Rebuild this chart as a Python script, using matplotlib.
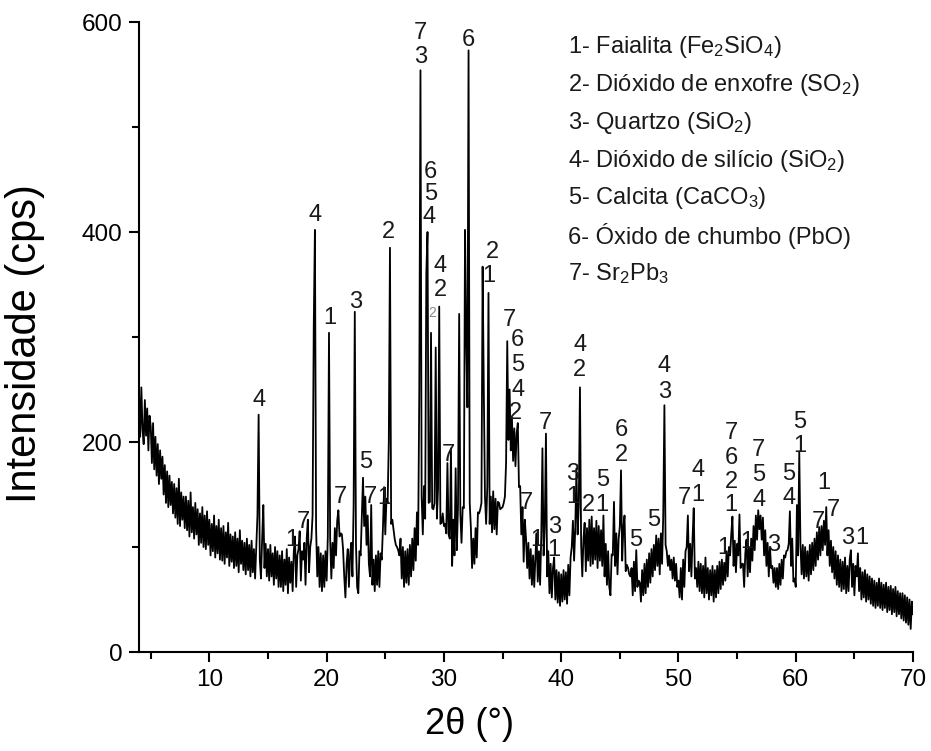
import numpy as np
import matplotlib
matplotlib.use('Agg')
import matplotlib.pyplot as plt

plt.rcParams['font.family'] = ['Liberation Sans', 'DejaVu Sans']
plt.rcParams['mathtext.default'] = 'regular'

# 2theta grid, 0.1 deg step from 4 to 70
two_theta = np.round(np.arange(4.0, 70.05, 0.1), 1)

# intensity, one row per degree
intensity = [
    248, 205, 252, 212, 198, 240, 206, 232, 192, 225,   # 4
    215, 180, 218, 174, 205, 168, 198, 160, 192, 165,   # 5
    186, 150, 178, 142, 172, 138, 168, 140, 162, 132,   # 6
    160, 128, 156, 122, 165, 120, 152, 126, 148, 118,   # 7
    148, 116, 144, 110, 152, 114, 138, 108, 142, 112,   # 8
    136, 102, 132, 104, 138, 100, 130, 98, 134, 102,    # 9
    126, 92, 122, 96, 130, 90, 120, 94, 126, 88,        # 10
    118, 87, 120, 84, 114, 90, 123, 82, 112, 86,        # 11
    110, 80, 114, 82, 108, 76, 116, 84, 106, 78,        # 12
    104, 74, 108, 78, 102, 72, 106, 76, 98, 70,         # 13
    100, 130, 226, 88, 70, 108, 140, 80, 103, 72,       # 14
    98, 68, 102, 72, 94, 64, 100, 70, 96, 62,           # 15
    92, 62, 96, 58, 88, 64, 98, 56, 90, 66,             # 16
    86, 58, 96, 110, 62, 92, 98, 115, 68, 96,           # 17
    88, 104, 64, 108, 126, 76, 100, 108, 130, 310,      # 18
    402, 118, 72, 100, 62, 94, 58, 92, 62, 96,          # 19
    68, 110, 304, 108, 70, 104, 80, 118, 92, 125,       # 20
    135, 110, 113, 112, 98, 72, 52, 84, 98, 62,         # 21
    92, 104, 72, 140, 324, 103, 62, 56, 96, 92,         # 22
    128, 166, 120, 148, 102, 130, 84, 72, 140, 64,      # 23
    88, 58, 92, 64, 96, 62, 94, 88, 118, 157,           # 24
    112, 146, 142, 200, 385, 122, 126, 117, 108, 102,   # 25
    100, 97, 92, 108, 70, 100, 62, 96, 66, 98,          # 26
    64, 102, 72, 108, 78, 118, 87, 133, 102, 250,       # 27
    554, 148, 112, 158, 127, 361, 400, 142, 143, 304,   # 28
    137, 136, 142, 290, 127, 156, 329, 122, 123, 132,   # 29
    120, 122, 113, 180, 112, 108, 194, 82, 126, 92,     # 30
    175, 97, 138, 322, 132, 104, 138, 137, 402, 300,    # 31
    233, 573, 142, 118, 80, 108, 84, 118, 90, 133,      # 32
    132, 136, 142, 367, 250, 148, 122, 158, 342, 122,   # 33
    148, 114, 153, 117, 146, 112, 143, 142, 136, 137,   # 34
    138, 142, 148, 180, 296, 202, 250, 192, 223, 182,   # 35
    213, 177, 208, 218, 157, 158, 112, 138, 86, 126,    # 36
    108, 80, 104, 70, 98, 64, 92, 62, 90, 113,          # 37
    67, 96, 64, 110, 194, 92, 120, 208, 72, 96,         # 38
    56, 84, 52, 80, 90, 50, 78, 47, 76, 44,             # 39
    74, 48, 78, 50, 76, 46, 83, 54, 90, 100,            # 40
    125, 87, 118, 175, 112, 140, 252, 102, 72, 108,     # 41
    123, 77, 118, 87, 126, 82, 129, 84, 118, 88,        # 42
    125, 80, 120, 87, 116, 82, 130, 72, 103, 64,        # 43
    96, 62, 54, 93, 92, 143, 82, 113, 74, 108,          # 44
    120, 173, 87, 118, 130, 77, 83, 80, 74, 72,         # 45
    80, 54, 86, 58, 97, 62, 68, 66, 48, 78,             # 46
    54, 84, 56, 88, 62, 94, 66, 98, 72, 102,            # 47
    78, 111, 82, 108, 74, 113, 84, 130, 235, 102,       # 48
    96, 82, 92, 78, 88, 70, 90, 68, 84, 62,             # 49
    68, 52, 80, 50, 88, 62, 96, 100, 130, 77,           # 50
    103, 72, 108, 137, 70, 80, 62, 86, 58, 84,          # 51
    56, 82, 52, 90, 56, 80, 50, 78, 54, 82,             # 52
    48, 78, 52, 82, 56, 86, 60, 88, 64, 85,             # 53
    68, 96, 72, 100, 92, 112, 129, 82, 106, 76,         # 54
    103, 92, 131, 80, 84, 84, 62, 94, 107, 72,          # 55
    100, 76, 108, 87, 120, 97, 130, 107, 135, 117,      # 56
    130, 107, 128, 92, 116, 82, 104, 72, 100, 80,       # 57
    82, 66, 80, 62, 80, 60, 84, 64, 88, 70,             # 58
    92, 90, 96, 97, 103, 134, 82, 108, 67, 70,          # 59
    62, 140, 92, 191, 102, 74, 102, 70, 100, 72,        # 60
    96, 68, 102, 74, 104, 78, 108, 82, 114, 88,         # 61
    119, 92, 120, 97, 125, 102, 138, 92, 116, 82,       # 62
    106, 76, 100, 70, 96, 64, 92, 62, 88, 58,           # 63
    86, 60, 90, 56, 82, 58, 88, 97, 62, 84,             # 64
    54, 82, 72, 94, 58, 80, 50, 76, 52, 78,             # 65
    48, 74, 50, 72, 46, 70, 44, 68, 42, 66,             # 66
    44, 70, 42, 66, 40, 64, 42, 66, 38, 62,             # 67
    40, 63, 36, 60, 38, 62, 34, 58, 36, 56,             # 68
    32, 56, 30, 54, 28, 52, 26, 50, 22, 48,             # 69
    36,                                                 # 70
]

# phase labels above the peaks
label_x = [14.2, 17.0, 18.0, 19.0, 20.24, 21.2, 22.46, 23.3, 23.7, 24.85, 25.3,
           28.0, 28.0, 32.1, 28.85, 28.85, 28.7, 29.7, 29.7, 30.4,
           34.15, 33.8, 35.6, 36.3, 36.3, 36.3, 36.1, 37.05, 37.9, 38.67,
           39.4, 39.4, 41.0, 41.0, 41.57, 41.57, 42.3, 43.45, 43.55,
           45.15, 45.15, 46.35, 47.9, 48.8, 48.8, 50.5, 51.65, 51.65,
           53.9, 54.5, 54.5, 54.5, 54.5, 55.8, 56.85, 56.85, 56.85,
           58.1, 59.4, 59.4, 60.34, 60.34, 62.4, 61.96, 63.2, 64.45, 65.6]
label_y = [240, 107, 124, 416, 318, 148, 333, 181, 148, 147, 400,
           590, 567, 583, 457, 436, 414, 368, 345, 188,
           381, 358, 316, 297, 273, 250, 228, 142, 107, 218,
           119, 97, 170, 148, 292, 269, 140, 140, 164,
           211, 188, 107, 126, 272, 248, 147, 150, 173,
           99, 209, 185, 162, 140, 105, 192, 169, 145,
           102, 170, 147, 219, 196, 161, 124, 135, 109, 109]
label_txt = ['4', '1', '7', '4', '1', '7', '3', '5', '7', '1', '2',
             '7', '3', '6', '6', '5', '4', '4', '2', '7',
             '2', '1', '7', '6', '5', '4', '2', '7', '1', '7',
             '3', '1', '3', '1', '4', '2', '2', '1', '5',
             '6', '2', '5', '5', '4', '3', '7', '1', '4',
             '1', '7', '6', '2', '1', '1', '7', '5', '4',
             '3', '5', '4', '5', '1', '1', '7', '7', '3', '1']

legend_lines = [r'1- Faialita (Fe$_2$SiO$_4$)',
                r'2- Dióxido de enxofre (SO$_2$)',
                r'3- Quartzo (SiO$_2$)',
                r'4- Dióxido de silício (SiO$_2$)',
                r'5- Calcita (CaCO$_3$)',
                r'6- Óxido de chumbo (PbO)',
                r'7- Sr$_2$Pb$_3$']

fig = plt.figure(figsize=(9.31, 7.51), dpi=100)
ax = fig.add_axes([0.1493, 0.1318, 0.8314, 0.8389])

ax.plot(two_theta, intensity, color='black', lw=1.3)

for x, y, t in zip(label_x, label_y, label_txt):
    ax.text(x, y, t, ha='center', va='center', fontsize=17, color='#1a1a1a')
# the small grey "2" under the 4/2 pair
ax.text(29.0, 323, '2', ha='center', va='center', fontsize=10, color='#888888')

for i, s in enumerate(legend_lines):
    ax.text(40.55, 576 - i * 36.0, s, ha='left', va='center', fontsize=17, color='#1a1a1a')

ax.set_xlim(4, 70)
ax.set_ylim(0, 600)
ax.set_xticks([10, 20, 30, 40, 50, 60, 70])
ax.set_xticks([5, 15, 25, 35, 45, 55, 65], minor=True)
ax.set_yticks([0, 200, 400, 600])
ax.set_yticks([100, 300, 500], minor=True)
ax.tick_params(which='major', direction='out', length=7, width=1.5, labelsize=17.5, pad=5)
ax.tick_params(which='minor', direction='out', length=5, width=1.5)
ax.spines['top'].set_visible(False)
ax.spines['right'].set_visible(False)
ax.spines['left'].set_linewidth(1.5)
ax.spines['bottom'].set_linewidth(1.5)

ax.set_xlabel('2θ (°)', fontsize=26)
ax.xaxis.set_label_coords(0.427, -0.087)
ax.set_ylabel('Intensidade (cps)', fontsize=30)
ax.yaxis.set_label_coords(-0.122, 0.49)

fig.savefig('out.png', dpi=100)
